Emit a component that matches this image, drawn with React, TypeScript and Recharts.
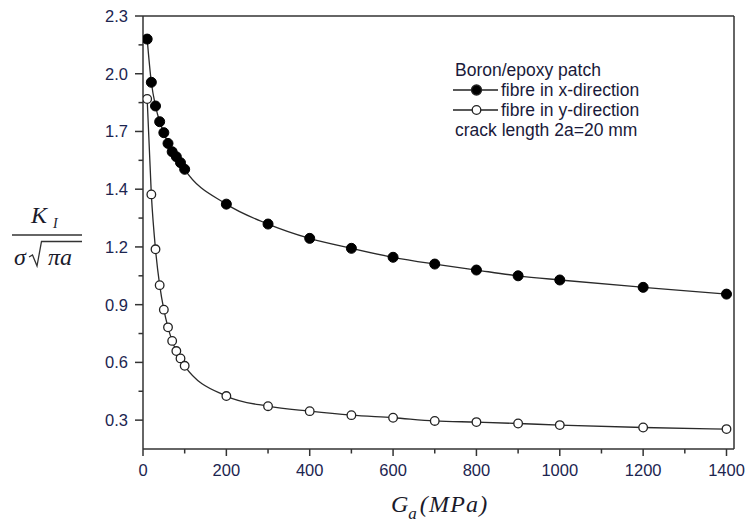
import { LineChart, Line, XAxis, YAxis, ReferenceLine, Legend } from "recharts";

document.body.style.margin = "0";

// G_a (MPa)
const gaValues = [10, 20, 30, 40, 50, 60, 70, 80, 90, 100, 200, 300, 400, 500, 600, 700, 800, 900, 1000, 1200, 1400];
// normalised K_I, fibre in x-direction (filled circles)
const fibreX = [2.204, 1.987, 1.868, 1.789, 1.734, 1.68, 1.638, 1.613, 1.583, 1.55, 1.375, 1.275, 1.203, 1.153, 1.108, 1.074, 1.044, 1.015, 0.994, 0.957, 0.923];
// normalised K_I, fibre in y-direction (open circles)
const fibreY = [1.903, 1.424, 1.148, 0.968, 0.845, 0.756, 0.688, 0.637, 0.6, 0.563, 0.411, 0.36, 0.335, 0.315, 0.302, 0.286, 0.28, 0.273, 0.265, 0.253, 0.245];

const xMajorTicks = [0, 200, 400, 600, 800, 1000, 1200, 1400];
const xMinorTicks = [100, 300, 500, 700, 900, 1100, 1300];
const yMajorTicks = [0.29, 0.58, 0.87, 1.16, 1.45, 1.74, 2.03, 2.32];
const yTickLabels = ["0.3", "0.6", "0.9", "1.2", "1.4", "1.7", "2.0", "2.3"];
const yMinorTicks = [0.435, 0.725, 1.015, 1.305, 1.595, 1.885, 2.175];

const X_MAX = 1418;
const Y_MIN = 0.145;
const Y_MAX = 2.32;

const data = gaValues.map((ga, i) => ({ ga, x: fibreX[i], y: fibreY[i] }));

const PLOT_LEFT = 143;
const PLOT_BOTTOM = 449;
const AXIS = "#333";
const TICK_TEXT = "#1c2550";
const SANS = "'Liberation Sans', Arial, sans-serif";
const SERIF = "'Liberation Serif', 'Times New Roman', serif";

function XTick({ x, payload }: any) {
  const major = xMajorTicks.includes(payload.value);
  return (
    <g>
      <line x1={x} x2={x} y1={PLOT_BOTTOM} y2={PLOT_BOTTOM + (major ? 7 : 4.5)} stroke={AXIS} strokeWidth={1.5} />
      {major && (
        <text x={x} y={PLOT_BOTTOM + 27} textAnchor="middle" fontFamily={SANS} fontSize={16.5} fill={TICK_TEXT}>
          {payload.value}
        </text>
      )}
    </g>
  );
}

function YTick({ y, payload }: any) {
  const i = yMajorTicks.indexOf(payload.value);
  const major = i >= 0;
  return (
    <g>
      <line x1={PLOT_LEFT - (major ? 8 : 4.5)} x2={PLOT_LEFT} y1={y} y2={y} stroke={AXIS} strokeWidth={1.5} />
      {major && (
        <text x={PLOT_LEFT - 15} y={y + 6} textAnchor="end" fontFamily={SANS} fontSize={16.5} fill={TICK_TEXT}>
          {yTickLabels[i]}
        </text>
      )}
    </g>
  );
}

function XTitle() {
  return (
    <text x={391} y={512} fontFamily={SERIF} fontStyle="italic" fontSize={24} fill="#1a1a2a">
      G
      <tspan dy={7} fontSize={17}>a</tspan>
      <tspan dx={3} dy={-7} letterSpacing={1.2}>(MPa)</tspan>
    </text>
  );
}

function YTitle() {
  return (
    <g fill="#1a1a2a" fontFamily={SERIF} fontStyle="italic">
      <text x={31} y={223} fontSize={24}>K</text>
      <text x={53} y={228} fontSize={14}>I</text>
      <line x1={12} x2={82} y1={235} y2={235} stroke="#333" strokeWidth={1.6} />
      <text x={14} y={265} fontSize={24}>σ</text>
      <path d="M 29 257 L 32.5 255 L 37 266 L 41.5 241.5 L 82 241.5" fill="none" stroke="#333" strokeWidth={1.3} />
      <text x={48} y={265} fontSize={24}>πa</text>
    </g>
  );
}

function LegendBox({ payload }: any) {
  const rowStyle = { height: 20, display: "flex", alignItems: "center" } as const;
  return (
    <div style={{ fontFamily: SANS, fontSize: 17.5, color: "#1a1a3a", lineHeight: "20px", whiteSpace: "nowrap" }}>
      <div style={{ ...rowStyle, paddingLeft: 2 }}>Boron/epoxy patch</div>
      {(payload || []).map((entry: any) => {
        const filled = entry.dataKey === "x";
        return (
          <div key={entry.dataKey} style={rowStyle}>
            <svg width={48} height={20} style={{ display: "block" }}>
              <line x1={0} x2={45} y1={10} y2={10} stroke="#222" strokeWidth={1.3} />
              <circle cx={23.5} cy={10} r={filled ? 5 : 4.3} fill={filled ? "#000" : "#fff"} stroke="#222" strokeWidth={1.3} />
            </svg>
            <span>{entry.value}</span>
          </div>
        );
      })}
      <div style={{ ...rowStyle, paddingLeft: 2 }}>crack length 2a=20 mm</div>
    </div>
  );
}

export default function App() {
  return (
    <div style={{ width: 749, height: 522, background: "#fff" }}>
      <LineChart width={749} height={522} data={data} margin={{ top: 16, right: 15, bottom: 43, left: 83 }}>
        <XAxis
          dataKey="ga"
          type="number"
          domain={[0, X_MAX]}
          ticks={[...xMajorTicks, ...xMinorTicks].sort((a, b) => a - b)}
          tick={<XTick />}
          tickLine={false}
          axisLine={{ stroke: AXIS, strokeWidth: 1.5 }}
          height={30}
          allowDataOverflow
          label={{ content: () => <XTitle /> }}
        />
        <YAxis
          type="number"
          domain={[Y_MIN, Y_MAX]}
          ticks={[...yMajorTicks, ...yMinorTicks].sort((a, b) => a - b)}
          tick={<YTick />}
          tickLine={false}
          axisLine={{ stroke: AXIS, strokeWidth: 1.5 }}
          width={60}
          allowDataOverflow
          label={{ content: () => <YTitle /> }}
        />
        <ReferenceLine y={Y_MAX} stroke={AXIS} strokeWidth={1.5} />
        <ReferenceLine x={X_MAX} stroke={AXIS} strokeWidth={1.5} />
        <Legend
          layout="vertical"
          align="center"
          verticalAlign="middle"
          wrapperStyle={{ left: 453, top: 60, width: 240 }}
          content={<LegendBox />}
        />
        <Line
          type="monotone"
          dataKey="x"
          name="fibre in x-direction"
          stroke="#2a2a2a"
          strokeWidth={1.3}
          dot={{ r: 5, fill: "#000", stroke: "#000", strokeWidth: 1 }}
          isAnimationActive={false}
        />
        <Line
          type="monotone"
          dataKey="y"
          name="fibre in y-direction"
          stroke="#2a2a2a"
          strokeWidth={1.3}
          dot={{ r: 4.3, fill: "#fff", stroke: "#222", strokeWidth: 1.3 }}
          isAnimationActive={false}
        />
      </LineChart>
    </div>
  );
}
